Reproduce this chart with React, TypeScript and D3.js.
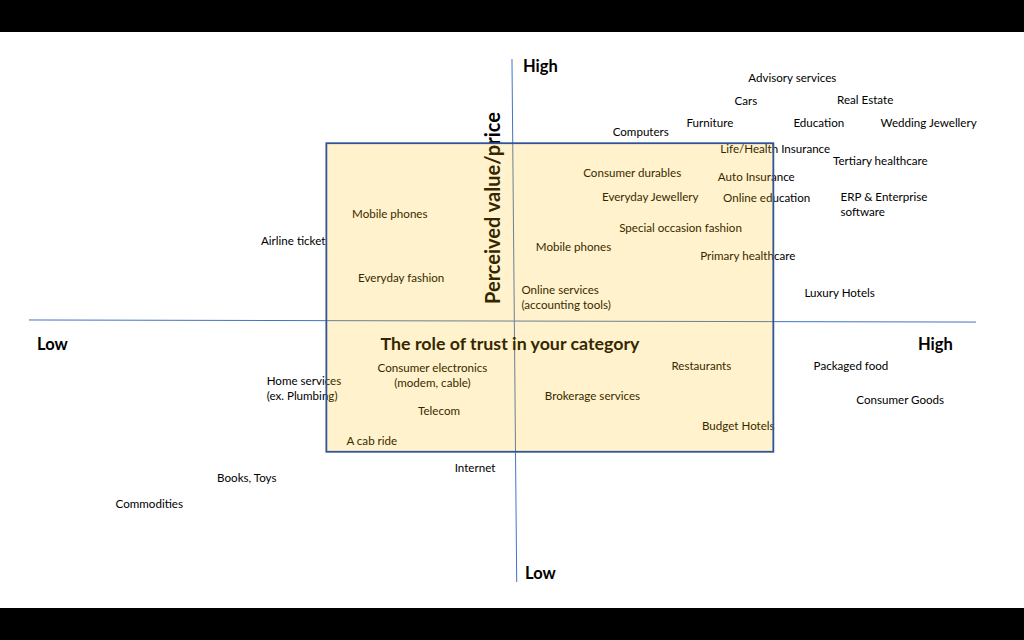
import React from "react";
import * as d3 from "d3";

// Category labels: position on "trust" (x, 0-100) and "perceived value/price" (y, 0-100)
const labels: string[][] = [
  ["Advisory services"], ["Cars"], ["Real Estate"], ["Computers"], ["Furniture"],
  ["Education"], ["Wedding Jewellery"], ["Life/Health Insurance"], ["Tertiary healthcare"],
  ["Consumer durables"], ["Auto Insurance"], ["Everyday Jewellery"], ["Online education"],
  ["ERP & Enterprise", "software"], ["Mobile phones"], ["Airline ticket"],
  ["Special occasion fashion"], ["Mobile phones"], ["Primary healthcare"], ["Everyday fashion"],
  ["Online services", "(accounting tools)"], ["Luxury Hotels"],
  ["Consumer electronics", "(modem, cable)"], ["Home services", "(ex. Plumbing)"],
  ["Restaurants"], ["Packaged food"], ["Brokerage services"], ["Consumer Goods"],
  ["Telecom"], ["Budget Hotels"], ["A cab ride"], ["Internet"], ["Books, Toys"], ["Commodities"],
];
const trust: number[] = [
  80.6, 75.7, 88.3, 64.6, 71.9, 83.4, 95.0, 78.8, 89.9, 63.7, 76.8, 65.6, 77.9,
  85.7, 38.1, 27.9, 68.8, 57.5, 75.9, 39.3, 52.0, 85.6, 42.6, 25.1,
  71.0, 86.8, 59.5, 92.0, 43.3, 74.9, 36.2, 47.1, 23.0, 12.7,
];
const value: number[] = [
  96.4, 92.0, 92.2, 86.0, 87.8, 87.8, 87.8, 82.8, 80.5, 78.2, 77.4, 73.6, 73.4,
  73.6, 70.4, 65.2, 67.7, 64.1, 62.3, 58.1, 55.8, 55.3, 40.9, 38.4,
  41.3, 41.3, 35.6, 34.8, 32.7, 29.8, 27.0, 21.8, 19.9, 14.9,
];
const anchors: string[] = [
  "middle", "middle", "middle", "middle", "middle", "middle", "middle", "middle", "middle",
  "middle", "middle", "middle", "middle", "start", "middle", "middle", "middle", "middle",
  "middle", "middle", "start", "middle", "middle", "start", "middle", "middle", "middle",
  "middle", "middle", "middle", "middle", "middle", "middle", "middle",
];

// Highlighted region (trust range, value range)
const boxTrust: number[] = [31.4, 78.6];
const boxValue: number[] = [24.9, 83.9];

// Axis endpoints (slightly skewed as in the original slide)
const vAxisTrust: number[] = [51.0, 51.5]; // top, bottom
const hAxisValue: number[] = [50.1, 49.7]; // left, right

const axisLow = "Low";
const axisHigh = "High";
const yTitle = "Perceived value/price";
const xTitle = "The role of trust in your category";

export default function App() {
  const W = 1024, H = 640;
  const x = d3.scaleLinear().domain([0, 100]).range([29, 976]);
  const y = d3.scaleLinear().domain([0, 100]).range([582, 59]);
  const font = "Lato, 'Open Sans', sans-serif";
  const lineH = 15;

  return (
    <svg width={W} height={H} style={{ position: "fixed", left: 0, top: 0 }}
      fontFamily={font}>
      <rect x={0} y={0} width={W} height={H} fill="#fff" />
      <rect x={0} y={0} width={W} height={32} fill="#000" />
      <rect x={0} y={608} width={W} height={32} fill="#000" />

      {/* axes */}
      <line x1={x(vAxisTrust[0])} y1={y(100)} x2={x(vAxisTrust[1])} y2={y(0)}
        stroke="#4472C4" strokeWidth={1} />
      <line x1={x(0)} y1={y(hAxisValue[0])} x2={x(100)} y2={y(hAxisValue[1])}
        stroke="#4472C4" strokeWidth={1} />

      {/* axis end labels */}
      <text x={523} y={72} fontSize={16.5} fontWeight="bold" fill="#000">{axisHigh}</text>
      <text x={525} y={579} fontSize={16.5} fontWeight="bold" fill="#000">{axisLow}</text>
      <text x={37} y={350} fontSize={16.5} fontWeight="bold" fill="#000">{axisLow}</text>
      <text x={918} y={350} fontSize={16.5} fontWeight="bold" fill="#000">{axisHigh}</text>

      {/* titles */}
      <text x={510} y={344} dy="0.35em" textAnchor="middle" fontSize={17.8} fontWeight="bold"
        fill="#000">{xTitle}</text>
      <text transform={`translate(493,208) rotate(-90)`} textAnchor="middle" dy="0.35em"
        fontSize={20} fontWeight="bold" fill="#000">{yTitle}</text>

      {/* category labels */}
      {labels.map((lines, i) => (
        <text key={i} x={x(trust[i])} y={y(value[i])} textAnchor={anchors[i]}
          fontSize={11.6} fill="#000">
          {lines.map((l, j) => (
            <tspan key={j} x={x(trust[i])} dy={j === 0 ? "0.35em" : lineH}>{l}</tspan>
          ))}
        </text>
      ))}

      {/* highlight box drawn on top */}
      <rect x={x(boxTrust[0])} y={y(boxValue[1])}
        width={x(boxTrust[1]) - x(boxTrust[0])} height={y(boxValue[0]) - y(boxValue[1])}
        fill="#FFC000" fillOpacity={0.2} stroke="#2F5597" strokeWidth={1.8} />
    </svg>
  );
}
